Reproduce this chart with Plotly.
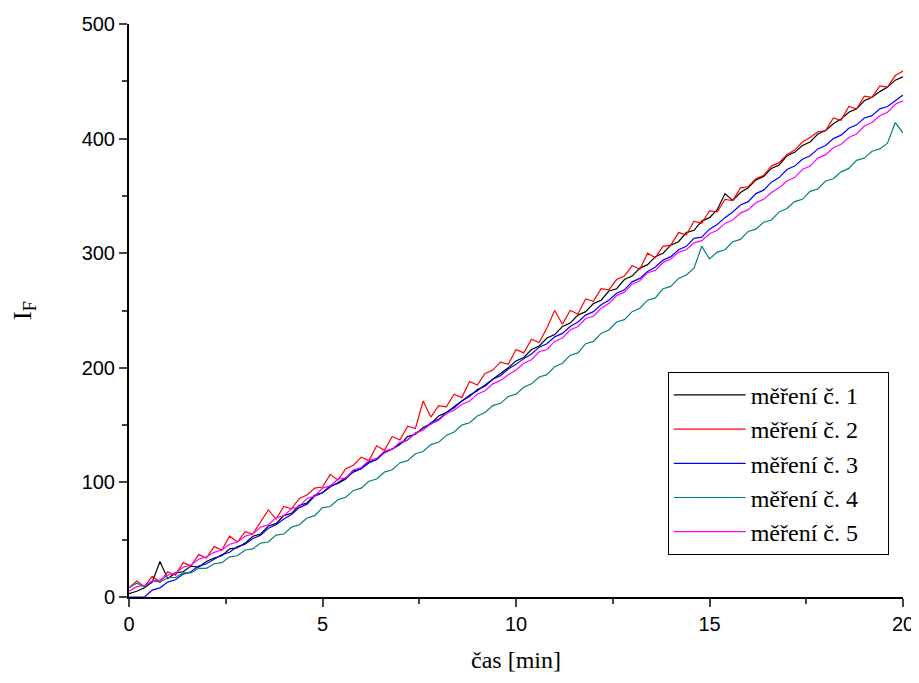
import plotly.graph_objects as go

# time axis: one reading every 0.2 min from 0 to 20 min
time_min = [round(i * 0.2, 1) for i in range(101)]

series_names = ["měření č. 1", "měření č. 2", "měření č. 3", "měření č. 4", "měření č. 5"]
series_colors = ["#000000", "#ff0000", "#0000ff", "#008080", "#ff00ff"]

mereni_1 = [3, 5, 8, 13, 31, 16, 21, 22, 27, 26,
            31, 34, 36, 42, 43, 47, 53, 55, 62, 64,
            71, 73, 80, 82, 89, 91, 97, 99, 103, 110,
            112, 118, 120, 127, 129, 133, 140, 142, 148, 151,
            158, 161, 166, 171, 176, 180, 185, 190, 195, 200,
            206, 209, 216, 219, 226, 229, 236, 239, 246, 249,
            256, 259, 267, 269, 277, 280, 287, 290, 297, 300,
            307, 310, 318, 320, 328, 331, 338, 352, 346, 353,
            357, 364, 367, 374, 377, 385, 388, 394, 397, 404,
            407, 413, 417, 423, 426, 433, 436, 441, 445, 451,
            454]
mereni_2 = [8, 14, 9, 18, 13, 22, 19, 30, 27, 37,
            34, 44, 41, 53, 48, 57, 55, 66, 76, 68,
            79, 77, 86, 89, 95, 96, 107, 102, 112, 115,
            122, 119, 132, 128, 140, 137, 149, 147, 171, 157,
            167, 166, 177, 174, 188, 185, 195, 198, 205, 203,
            216, 213, 225, 222, 235, 250, 238, 250, 247, 260,
            258, 269, 268, 277, 280, 289, 286, 300, 296, 306,
            307, 318, 316, 328, 326, 337, 336, 347, 346, 357,
            358, 365, 368, 376, 379, 386, 390, 397, 401, 406,
            407, 418, 416, 428, 426, 437, 436, 446, 445, 455,
            459]
mereni_3 = [0, 0, 0, 6, 8, 13, 15, 20, 22, 27,
            29, 33, 37, 39, 44, 46, 51, 54, 60, 63,
            68, 72, 78, 81, 88, 91, 96, 100, 104, 109,
            112, 117, 120, 126, 129, 134, 137, 143, 146, 152,
            155, 161, 165, 171, 175, 181, 184, 190, 193, 199,
            203, 208, 212, 218, 221, 227, 230, 236, 240, 246,
            249, 255, 259, 265, 268, 275, 278, 284, 288, 294,
            297, 303, 306, 313, 314, 321, 325, 331, 336, 342,
            345, 352, 355, 362, 366, 373, 376, 382, 385, 391,
            394, 400, 403, 409, 412, 418, 420, 426, 428, 433,
            438]
mereni_4 = [8, 12, 9, 14, 13, 17, 17, 21, 21, 25,
            25, 29, 30, 35, 36, 41, 42, 47, 48, 54,
            55, 61, 63, 69, 71, 78, 79, 85, 87, 93,
            95, 101, 103, 109, 111, 117, 119, 125, 127, 133,
            135, 141, 144, 150, 152, 158, 161, 167, 169, 175,
            177, 183, 186, 192, 194, 201, 204, 211, 213, 221,
            223, 230, 233, 240, 242, 249, 252, 259, 261, 269,
            271, 278, 281, 287, 306, 295, 301, 303, 310, 312,
            319, 321, 327, 329, 336, 339, 345, 347, 354, 356,
            363, 365, 371, 374, 381, 383, 389, 391, 396, 414,
            405]
mereni_5 = [5, 9, 10, 14, 15, 19, 21, 26, 28, 33,
            35, 39, 41, 46, 48, 53, 55, 61, 63, 69,
            71, 77, 79, 86, 88, 95, 97, 103, 104, 111,
            113, 119, 121, 127, 129, 135, 137, 143, 146, 151,
            154, 160, 163, 168, 171, 177, 180, 186, 189, 194,
            198, 204, 207, 214, 216, 223, 226, 233, 236, 243,
            245, 252, 256, 263, 266, 273, 276, 283, 285, 292,
            295, 301, 303, 309, 311, 317, 320, 326, 329, 335,
            338, 344, 347, 353, 357, 363, 366, 373, 376, 383,
            386, 392, 395, 401, 404, 411, 414, 420, 423, 430,
            433]

all_series = [mereni_1, mereni_2, mereni_3, mereni_4, mereni_5]

x_ticks = [0, 5, 10, 15, 20]
y_ticks = [0, 100, 200, 300, 400, 500]

SANS = "Liberation Sans"
SERIF = "Liberation Serif"
PAD = "\u00a0\u00a0\u00a0\u00a0"  # right padding inside the legend box

fig = go.Figure()
for name, color, vals in zip(series_names, series_colors, all_series):
    fig.add_trace(go.Scatter(x=time_min[:len(vals)], y=vals, mode="lines", name=name + PAD,
                             line=dict(color=color, width=1.2)))

axis_font = dict(family=SANS, size=20, color="black")
fig.update_layout(
    width=911, height=667,
    margin=dict(l=121, r=16, t=16, b=78, autoexpand=False),
    paper_bgcolor="white", plot_bgcolor="white",
    showlegend=True,
    legend=dict(x=0.696, y=0.393, xanchor="left", yanchor="top",
                bordercolor="black", borderwidth=1, bgcolor="white",
                font=dict(family=SERIF, size=24, color="black"),
                tracegroupgap=0, itemwidth=72),
    xaxis=dict(range=[0, 20], tickvals=x_ticks, ticks="outside", ticklen=8, tickwidth=2,
               showline=True, linecolor="black", linewidth=2, showgrid=False, zeroline=False,
               tickfont=axis_font, automargin=False,
               minor=dict(ticks="outside", ticklen=5, tickwidth=2, dtick=2.5, tick0=0, showgrid=False),
               title=dict(text="čas [min]", standoff=17,
                          font=dict(family=SERIF, size=24, color="black"))),
    yaxis=dict(range=[0, 500], tickvals=y_ticks, ticks="outside", ticklen=8, tickwidth=2,
               showline=True, linecolor="black", linewidth=2, showgrid=False, zeroline=False,
               tickfont=axis_font, automargin=False,
               minor=dict(ticks="outside", ticklen=5, tickwidth=2, dtick=50, tick0=0, showgrid=False),
               title=dict(text="I<sub>F</sub>", standoff=48,
                          font=dict(family=SERIF, size=26, color="black"))),
)

fig.write_html("out.html")
